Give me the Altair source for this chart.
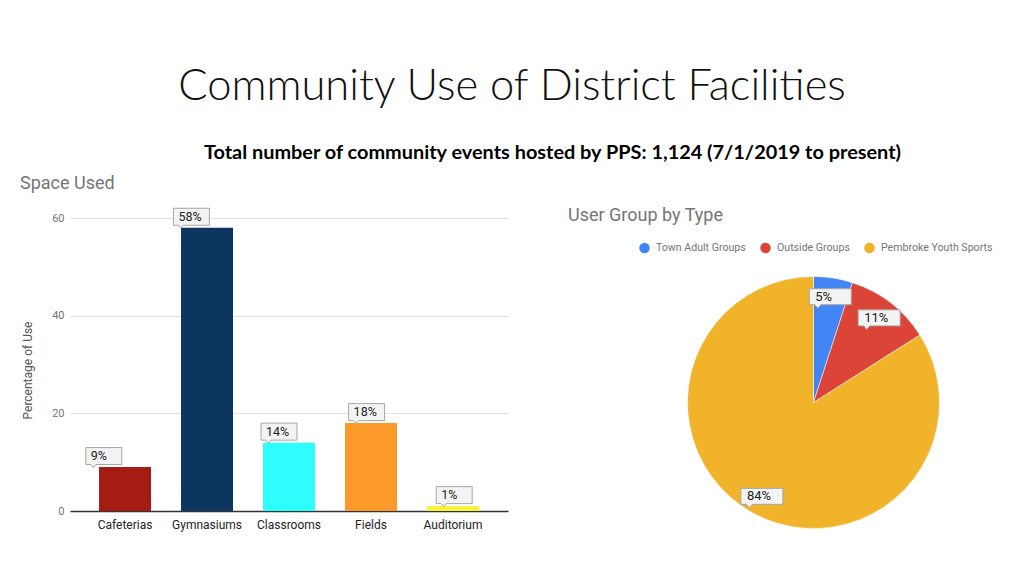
import altair as alt
import pandas as pd

# ---------------- data ----------------
title_text = "Community Use of District Facilities"
subtitle_text = "Total number of community events hosted by PPS: 1,124 (7/1/2019 to present)"
bar_title = "Space Used"
pie_title = "User Group by Type"
y_axis_title = "Percentage of Use"

spaces = ["Cafeterias", "Gymnasiums", "Classrooms", "Fields", "Auditorium"]
space_pct = [9, 58, 14, 18, 1]
space_colors = ["#a51d12", "#0c365f", "#2dfdfd", "#fb9a2a", "#f6f53c"]

groups = ["Town Adult Groups", "Outside Groups", "Pembroke Youth Sports"]
group_pct = [5, 11, 84]
group_colors = ["#4285f4", "#db4437", "#f0b32a"]

y_ticks = [0, 20, 40, 60]

bar_df = pd.DataFrame({
    "space": spaces,
    "pct": space_pct,
    "label": [f"{v}%" for v in space_pct],
})
pie_df = pd.DataFrame({
    "group": groups,
    "pct": group_pct,
    "idx": list(range(len(groups))),
    "label": [f"{v}%" for v in group_pct],
})

# ---------------- styles ----------------
FONT = "Roboto"
BAR_BOX = "M-1,-0.472 L1,-0.472 L1,0.472 L-0.44,0.472 L-0.58,0.64 L-0.72,0.472 L-1,0.472 Z"
PIE_BOX = "M-1,-0.381 L1,-0.381 L1,0.381 L-0.45,0.381 L-0.59,0.55 L-0.73,0.381 L-1,0.381 Z"

W, H = 1008, 560
X0, X1 = 62, 500       # bar plot horizontal extent
Y0, Y1 = 503, 210      # bar plot zero / top
CX, CY, R = 805.5, 394.5, 126  # pie centre and radius


def text_layer(txt, x, y, **kw):
    return alt.Chart(pd.DataFrame({"t": [txt]})).mark_text(**kw).encode(
        text="t:N", x=alt.value(x), y=alt.value(y)
    )


t_main = text_layer(title_text, 504, 92, font="Lato", fontWeight=300, fontSize=43.5,
                    color="#111111", align="center", baseline="alphabetic")
t_sub = text_layer(subtitle_text, 544.5, 145, font="Lato", fontWeight="bold", fontSize=19.9,
                   color="#000000", align="center", baseline="middle")
t_bar = text_layer(bar_title, 12, 176, font=FONT, fontSize=18, color="#757575",
                   align="left", baseline="middle")
t_pie = text_layer(pie_title, 560, 208, font=FONT, fontSize=18, color="#757575",
                   align="left", baseline="middle")

# ---------------- bar chart ----------------
def bar_x(axis):
    return alt.X("space:N", sort=spaces,
                 scale=alt.Scale(range=[X0, X1], paddingInner=0.366, paddingOuter=0.354),
                 axis=axis)


def bar_y(axis):
    return alt.Y("pct:Q",
                 scale=alt.Scale(domain=[0, 60], range=[Y0, Y1], nice=False, zero=True),
                 axis=axis)


x_axis = alt.Axis(title=None, orient="bottom", offset=Y0 - H, labelPadding=8, ticks=False,
                  domainColor="#333333", domainWidth=1.5, labelColor="#222222",
                  labelFontSize=12, labelFont=FONT, labelAngle=0, grid=False)
y_axis = alt.Axis(values=y_ticks, orient="left", offset=-X0, title=y_axis_title,
                  domain=False, ticks=False, labelPadding=6, labelColor="#757575",
                  labelFontSize=11, labelFont=FONT, grid=True, gridColor="#e0e0e0",
                  titleFont=FONT, titleFontSize=12, titleFontWeight="normal",
                  titleColor="#555555", titleX=-43, titleY=362,
                  titleBaseline="middle", titleAngle=-90)

bars = alt.Chart(bar_df).mark_bar().encode(
    x=bar_x(x_axis), y=bar_y(y_axis),
    color=alt.Color("space:N", scale=alt.Scale(domain=spaces, range=space_colors),
                    legend=None),
)
bar_boxes = alt.Chart(bar_df).mark_point(
    shape=BAR_BOX, size=1296, filled=True, fill="#f3f3f3", stroke="#a6a6a6",
    strokeWidth=1, opacity=1, xOffset=-10, yOffset=-11,
).encode(x=bar_x(None), y=bar_y(None))
bar_text = alt.Chart(bar_df).mark_text(
    font=FONT, fontSize=12.5, color="#222222", align="left", baseline="middle",
    dx=-23, dy=-11,
).encode(x=bar_x(None), y=bar_y(None), text="label:N")

# ---------------- pie chart ----------------
arc = alt.Chart(pie_df).mark_arc(outerRadius=R, stroke="white", strokeWidth=0.5).encode(
    theta=alt.Theta("pct:Q", stack=True),
    order=alt.Order("idx:Q"),
    color=alt.Color("group:N", sort=groups,
                    scale=alt.Scale(domain=groups, range=group_colors),
                    legend=alt.Legend(title=None, orient="none", legendX=631, legendY=234,
                                      direction="horizontal", symbolType="circle",
                                      symbolSize=110, symbolStrokeWidth=0,
                                      labelFont=FONT, labelFontSize=10.6,
                                      labelColor="#757575", columnPadding=14,
                                      labelOffset=6)),
    x=alt.value(CX), y=alt.value(CY),
)


def pie_base():
    return alt.Chart(pie_df).transform_joinaggregate(
        total="sum(pct)"
    ).transform_window(
        cum="sum(pct)", sort=[alt.SortField("idx")], frame=[None, 0]
    ).transform_calculate(
        mid="2*PI*(datum.cum - datum.pct/2)/datum.total",
        lx="0.85*sin(datum.mid)",
        ly="0.85*cos(datum.mid)",
    )


def pie_x():
    return alt.X("lx:Q", scale=alt.Scale(domain=[-1, 1], range=[CX - R, CX + R]), axis=None)


def pie_y():
    return alt.Y("ly:Q", scale=alt.Scale(domain=[-1, 1], range=[CY + R, CY - R]), axis=None)


pie_boxes = pie_base().mark_point(
    shape=PIE_BOX, size=1764, filled=True, fill="#f3f3f3", stroke="#a6a6a6",
    strokeWidth=1, opacity=1,
).encode(x=pie_x(), y=pie_y())
pie_text = pie_base().mark_text(
    font=FONT, fontSize=13, color="#222222", align="left", baseline="middle", dx=-15,
).encode(x=pie_x(), y=pie_y(), text="label:N")

chart = alt.layer(
    bars, bar_boxes, bar_text, arc, pie_boxes, pie_text,
    t_main, t_sub, t_bar, t_pie,
).resolve_scale(
    x="independent", y="independent", color="independent", theta="independent"
).properties(
    width=W, height=H, autosize="none", padding=0, background="white"
).configure_view(stroke=None)

chart.save("out.html", embed_options={"renderer": "svg", "actions": False})
